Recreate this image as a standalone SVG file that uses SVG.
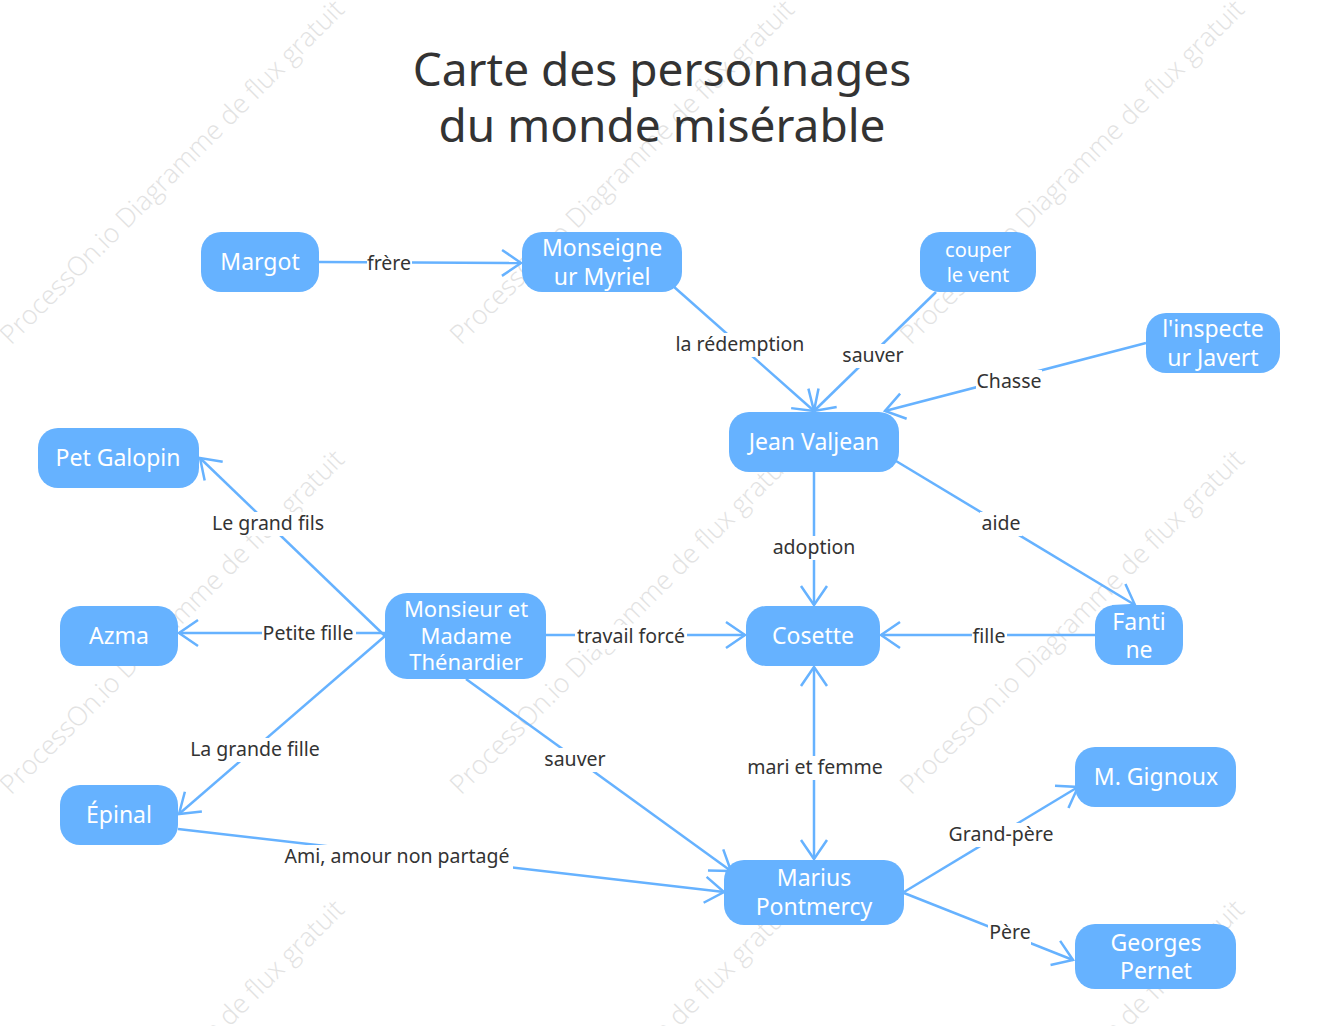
<svg xmlns="http://www.w3.org/2000/svg" width="1318" height="1026" viewBox="0 0 1318 1026">
<style>
.wm{font-family:"Open Sans","Noto Sans",sans-serif;font-weight:300;font-size:26.5px;fill:#e2e2e2;text-anchor:middle}
.node rect{fill:#66b2ff}
.node text{font-family:"Noto Sans","Open Sans",sans-serif;fill:#ffffff;text-anchor:middle;font-size:23px}
.edge{fill:none;stroke:#66b2ff;stroke-width:2.5}
.lbl rect{fill:#ffffff}
.lbl text{font-family:"Noto Sans","Open Sans",sans-serif;fill:#333333;font-size:19.5px;text-anchor:middle}
.title{font-family:"Noto Sans","Open Sans",sans-serif;fill:#333333;font-size:46px;text-anchor:middle}
</style>
<defs>
<marker id="arr" markerUnits="userSpaceOnUse" viewBox="-2 -15 24 30" refX="19" refY="0" markerWidth="24" markerHeight="30" orient="auto">
<path d="M0,-13 L19,0 L0,13" fill="none" stroke="#66b2ff" stroke-width="2.5"/>
</marker>
</defs>
<rect width="1318" height="1026" fill="#ffffff"/>
<g id="watermarks">
<text class="wm" transform="translate(172,172) rotate(-45)" dy="9">ProcessOn.io Diagramme de flux gratuit</text>
<text class="wm" transform="translate(622,172) rotate(-45)" dy="9">ProcessOn.io Diagramme de flux gratuit</text>
<text class="wm" transform="translate(1072,172) rotate(-45)" dy="9">ProcessOn.io Diagramme de flux gratuit</text>
<text class="wm" transform="translate(172,622) rotate(-45)" dy="9">ProcessOn.io Diagramme de flux gratuit</text>
<text class="wm" transform="translate(622,622) rotate(-45)" dy="9">ProcessOn.io Diagramme de flux gratuit</text>
<text class="wm" transform="translate(1072,622) rotate(-45)" dy="9">ProcessOn.io Diagramme de flux gratuit</text>
<text class="wm" transform="translate(172,1072) rotate(-45)" dy="9">ProcessOn.io Diagramme de flux gratuit</text>
<text class="wm" transform="translate(622,1072) rotate(-45)" dy="9">ProcessOn.io Diagramme de flux gratuit</text>
<text class="wm" transform="translate(1072,1072) rotate(-45)" dy="9">ProcessOn.io Diagramme de flux gratuit</text>
</g>
<g id="title">
<text class="title" x="662" y="86">Carte des personnages</text>
<text class="title" x="662" y="142">du monde misérable</text>
</g>
<g id="connectors">
<line class="edge" x1="319" y1="262" x2="521" y2="263" marker-end="url(#arr)"/>
<line class="edge" x1="673" y1="286" x2="814" y2="411" marker-end="url(#arr)"/>
<line class="edge" x1="936" y1="292" x2="814" y2="411" marker-end="url(#arr)"/>
<line class="edge" x1="1146" y1="343" x2="885" y2="411" marker-end="url(#arr)"/>
<line class="edge" x1="896" y1="461" x2="1135" y2="605" marker-end="url(#arr)"/>
<line class="edge" x1="814" y1="472" x2="814" y2="605" marker-end="url(#arr)"/>
<line class="edge" x1="1095" y1="635" x2="881" y2="635" marker-end="url(#arr)"/>
<line class="edge" x1="546" y1="635" x2="745" y2="635" marker-end="url(#arr)"/>
<line class="edge" x1="814" y1="763" x2="814" y2="667" marker-end="url(#arr)"/>
<line class="edge" x1="814" y1="763" x2="814" y2="859" marker-end="url(#arr)"/>
<line class="edge" x1="385" y1="636" x2="200" y2="458" marker-end="url(#arr)"/>
<line class="edge" x1="385" y1="633" x2="179" y2="633" marker-end="url(#arr)"/>
<line class="edge" x1="385" y1="636" x2="179" y2="814" marker-end="url(#arr)"/>
<line class="edge" x1="466" y1="679" x2="731" y2="871" marker-end="url(#arr)"/>
<line class="edge" x1="178" y1="829" x2="724" y2="892" marker-end="url(#arr)"/>
<line class="edge" x1="904" y1="892" x2="1078" y2="787" marker-end="url(#arr)"/>
<line class="edge" x1="904" y1="893" x2="1073" y2="960" marker-end="url(#arr)"/>
<g class="lbl">
<rect x="367" y="252" width="45" height="22"/><text x="389" y="270">frère</text>
<rect x="674" y="333" width="132" height="24"/><text x="740" y="351">la rédemption</text>
<rect x="842" y="344" width="62" height="24"/><text x="873" y="362">sauver</text>
<rect x="976" y="370" width="66" height="24"/><text x="1009" y="388">Chasse</text>
<rect x="980" y="512" width="42" height="24"/><text x="1001" y="530">aide</text>
<rect x="771" y="536" width="87" height="24"/><text x="814" y="554">adoption</text>
<rect x="972" y="625" width="35" height="24"/><text x="989" y="643">fille</text>
<rect x="575" y="625" width="112" height="24"/><text x="631" y="643">travail forcé</text>
<rect x="746" y="756" width="139" height="24"/><text x="815" y="774">mari et femme</text>
<rect x="211" y="512" width="115" height="24"/><text x="268" y="530">Le grand fils</text>
<rect x="262" y="622" width="94" height="24"/><text x="308" y="640">Petite fille</text>
<rect x="188" y="738" width="134" height="24"/><text x="255" y="756">La grande fille</text>
<rect x="544" y="748" width="63" height="24"/><text x="575" y="766">sauver</text>
<rect x="282" y="845" width="231" height="24"/><text x="397" y="863">Ami, amour non partagé</text>
<rect x="947" y="823" width="110" height="24"/><text x="1001" y="841">Grand-père</text>
<rect x="988" y="921" width="43" height="24"/><text x="1010" y="939">Père</text>
</g>
</g>
<g id="n-margot" class="node"><rect x="201" y="232" width="118" height="60" rx="20"/><text x="260" y="270">Margot</text></g>
<g id="n-myriel" class="node"><rect x="522" y="232" width="160" height="60" rx="20"/><text x="602" y="256">Monseigne</text><text x="602" y="285">ur Myriel</text></g>
<g id="n-couper" class="node"><rect x="920" y="232" width="116" height="60" rx="20"/><text x="978" y="257" style="font-size:20px">couper</text><text x="978" y="282" style="font-size:20px">le vent</text></g>
<g id="n-javert" class="node"><rect x="1146" y="313" width="134" height="60" rx="20"/><text x="1213" y="337">l'inspecte</text><text x="1213" y="366">ur Javert</text></g>
<g id="n-valjean" class="node"><rect x="729" y="412" width="170" height="60" rx="20"/><text x="814" y="450">Jean Valjean</text></g>
<g id="n-galopin" class="node"><rect x="38" y="428" width="161" height="60" rx="20"/><text x="118" y="466">Pet Galopin</text></g>
<g id="n-azma" class="node"><rect x="60" y="606" width="118" height="60" rx="20"/><text x="119" y="644">Azma</text></g>
<g id="n-thenardier" class="node"><rect x="385" y="593" width="161" height="86" rx="22"/><text x="466" y="617" style="font-size:22px">Monsieur et</text><text x="466" y="644" style="font-size:22px">Madame</text><text x="466" y="670" style="font-size:22px">Thénardier</text></g>
<g id="n-cosette" class="node"><rect x="746" y="606" width="134" height="60" rx="20"/><text x="813" y="644">Cosette</text></g>
<g id="n-fantine" class="node"><rect x="1095" y="605" width="88" height="60" rx="20"/><text x="1139" y="630">Fanti</text><text x="1139" y="658">ne</text></g>
<g id="n-epinal" class="node"><rect x="60" y="785" width="118" height="60" rx="20"/><text x="119" y="823">Épinal</text></g>
<g id="n-gignoux" class="node"><rect x="1075" y="747" width="161" height="60" rx="20"/><text x="1156" y="785">M. Gignoux</text></g>
<g id="n-marius" class="node"><rect x="724" y="860" width="180" height="65" rx="20"/><text x="814" y="886">Marius</text><text x="814" y="915">Pontmercy</text></g>
<g id="n-georges" class="node"><rect x="1075" y="924" width="161" height="65" rx="20"/><text x="1156" y="951">Georges</text><text x="1156" y="979">Pernet</text></g>
</svg>
